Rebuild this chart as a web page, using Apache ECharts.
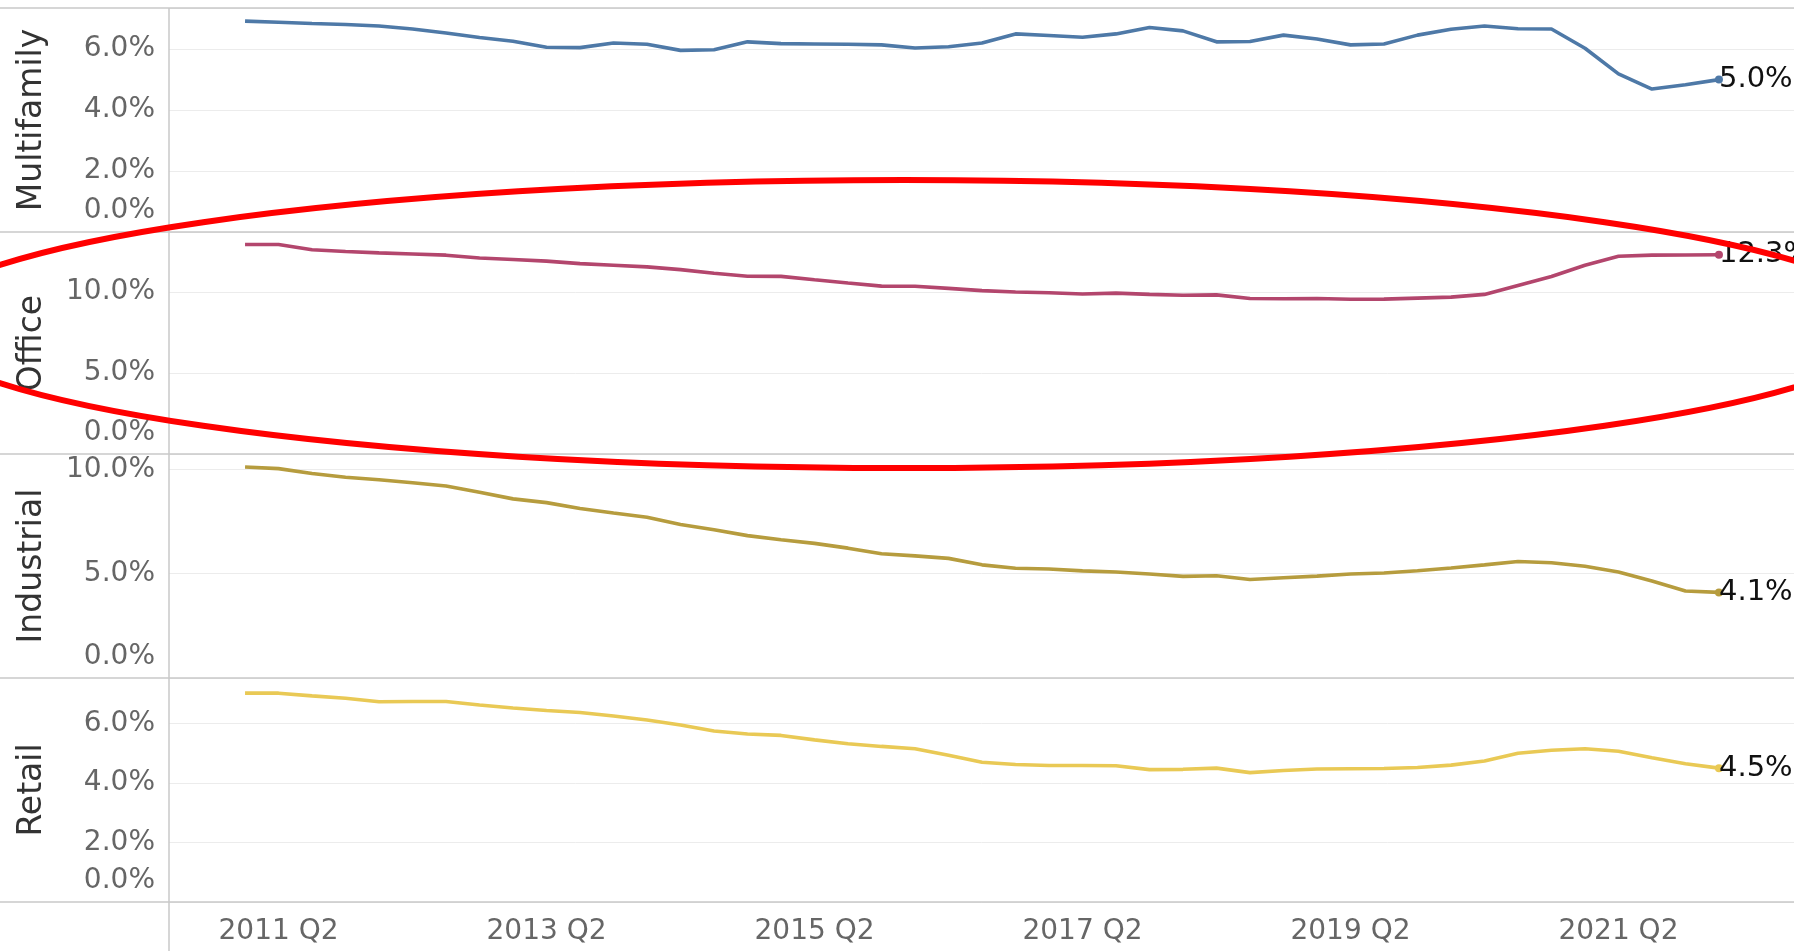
<!DOCTYPE html>
<html><head><meta charset="utf-8">
<script src="https://cdn.jsdelivr.net/npm/echarts@6/dist/echarts.min.js"></script>
<style>html,body{margin:0;padding:0;background:#fff}#c{width:1794px;height:951px}</style>
</head><body><div id="c"></div>
<script>
const quarters = ['2011 Q1','2011 Q2','2011 Q3','2011 Q4','2012 Q1','2012 Q2','2012 Q3','2012 Q4',
  '2013 Q1','2013 Q2','2013 Q3','2013 Q4','2014 Q1','2014 Q2','2014 Q3','2014 Q4',
  '2015 Q1','2015 Q2','2015 Q3','2015 Q4','2016 Q1','2016 Q2','2016 Q3','2016 Q4',
  '2017 Q1','2017 Q2','2017 Q3','2017 Q4','2018 Q1','2018 Q2','2018 Q3','2018 Q4',
  '2019 Q1','2019 Q2','2019 Q3','2019 Q4','2020 Q1','2020 Q2','2020 Q3','2020 Q4',
  '2021 Q1','2021 Q2','2021 Q3','2021 Q4','2022 Q1'];
const xTickLabels = ['2011 Q2','2013 Q2','2015 Q2','2017 Q2','2019 Q2','2021 Q2'];
const panelNames = ['Multifamily','Office','Industrial','Retail'];
const multifamily = [6.92,6.88,6.84,6.81,6.76,6.66,6.53,6.38,6.26,6.06,
  6.05,6.20,6.16,5.96,5.98,6.24,6.18,6.17,6.16,6.14,
  6.04,6.08,6.20,6.50,6.45,6.39,6.50,6.71,6.60,6.24,
  6.25,6.46,6.33,6.14,6.17,6.46,6.65,6.76,6.67,6.66,
  6.03,5.19,4.69,4.83,5.00];
const office = [12.93,12.93,12.60,12.50,12.41,12.34,12.27,12.10,12.00,11.90,
  11.75,11.65,11.55,11.38,11.15,10.97,10.96,10.75,10.55,10.36,
  10.35,10.22,10.08,10.00,9.95,9.87,9.93,9.85,9.80,9.82,
  9.60,9.58,9.60,9.55,9.56,9.62,9.68,9.85,10.40,10.95,
  11.65,12.20,12.27,12.28,12.30];
const industrial = [10.11,10.03,9.80,9.62,9.50,9.35,9.20,8.90,8.58,8.40,
  8.12,7.90,7.70,7.35,7.10,6.82,6.62,6.45,6.22,5.95,
  5.85,5.73,5.42,5.26,5.22,5.13,5.08,4.98,4.87,4.90,
  4.72,4.80,4.88,4.98,5.03,5.14,5.27,5.42,5.58,5.52,
  5.35,5.08,4.65,4.17,4.10];
const retail = [7.02,7.02,6.93,6.85,6.73,6.74,6.74,6.62,6.52,6.44,
  6.37,6.25,6.12,5.95,5.75,5.65,5.60,5.45,5.32,5.23,
  5.15,4.93,4.70,4.62,4.59,4.59,4.58,4.45,4.46,4.50,
  4.35,4.42,4.47,4.48,4.49,4.52,4.60,4.74,5.00,5.10,
  5.15,5.07,4.85,4.65,4.50];
const seriesValues = [multifamily, office, industrial, retail];
const yIntervals = [2, 5, 5, 2];
const yMax = [7.35, 13.7, 10.73, 7.53];

const colors = ['#4e79a7', '#b3466d', '#b69c3e', '#e9c955'];
const gridTops = [8, 232, 454, 678];
const gridHeights = [224, 222, 224, 224];
const FONT = 'DejaVu Sans';
const W = 1794, AXIS_X = 169;
const last = quarters.length - 1;
const xMin = -2.27, xMax = 46.24;
const xTickIdx = xTickLabels.map(l => quarters.indexOf(l));

const grids = [], xAxes = [], yAxes = [], series = [];
panelNames.forEach((name, k) => {
  grids.push({left: AXIS_X, right: 0, top: gridTops[k], height: gridHeights[k]});
  xAxes.push({
    type: 'value', gridIndex: k, min: xMin, max: xMax,
    show: k === 3,
    axisLine: {show: false}, axisTick: {show: false}, splitLine: {show: false},
    axisLabel: {
      show: k === 3, customValues: xTickIdx, margin: 16,
      formatter: v => quarters[Math.round(v)] || '',
      color: '#666', fontSize: 28, fontFamily: FONT
    }
  });
  yAxes.push({
    type: 'value', gridIndex: k, min: 0, max: yMax[k], interval: yIntervals[k],
    name: name, nameLocation: 'middle', nameGap: 120, nameRotate: 90,
    nameTextStyle: {color: '#333', fontSize: 33, fontFamily: FONT},
    axisLine: {show: false}, axisTick: {show: false},
    splitLine: {show: true, lineStyle: {color: '#ececec', width: 1}},
    axisLabel: {
      showMaxLabel: false, margin: 14, color: '#666', fontSize: 28, fontFamily: FONT,
      hideOverlap: false,
      formatter: v => v === 0 ? '{z|0.0%}\n{z| }' : v.toFixed(1) + '%',
      rich: {z: {lineHeight: 42, fontSize: 28, color: '#666', fontFamily: FONT}}
    }
  });
  series.push({
    type: 'line', xAxisIndex: k, yAxisIndex: k,
    data: seriesValues[k].map((v, i) => [i, v]),
    symbol: 'circle', showSymbol: true,
    symbolSize: (v, p) => p.dataIndex === last ? 8 : 0,
    itemStyle: {color: colors[k]},
    lineStyle: {color: colors[k], width: 3.6},
    endLabel: {
      show: true, distance: 0,
      formatter: p => p.value[1].toFixed(1) + '%',
      color: '#111', fontSize: 29, fontFamily: FONT
    },
    z: 3
  });
});

const lineStyle = {stroke: '#c8c8c8', lineWidth: 1.5};
const graphics = [];
[8, 232, 454, 678, 902].forEach(y => graphics.push({
  type: 'line', shape: {x1: 0, y1: y, x2: W, y2: y}, style: lineStyle, z: 1, silent: true
}));
graphics.push({type: 'line', shape: {x1: AXIS_X, y1: 8, x2: AXIS_X, y2: 951}, style: lineStyle, z: 1, silent: true});
graphics.push({
  type: 'ellipse', shape: {cx: 904, cy: 324, rx: 991, ry: 144},
  style: {fill: 'none', stroke: '#ff0000', lineWidth: 6}, z: 100, silent: true
});

const chart = echarts.init(document.getElementById('c'), null, {renderer: 'canvas'});
chart.setOption({
  animation: false,
  backgroundColor: '#ffffff',
  grid: grids, xAxis: xAxes, yAxis: yAxes, series: series,
  graphic: graphics
});
</script></body></html>
